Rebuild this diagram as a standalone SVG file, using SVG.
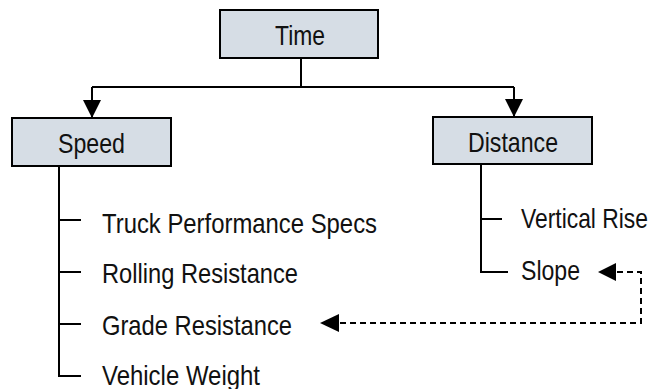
<svg xmlns="http://www.w3.org/2000/svg" width="658" height="389" viewBox="0 0 658 389">
<style>
.box{fill:#d6dde5;stroke:#000;stroke-width:2}
.t{font-family:"Liberation Sans Narrow","Liberation Sans",Arial,sans-serif;font-size:28.5px;fill:#111}
.c{text-anchor:middle}
.ln{fill:none;stroke:#000;stroke-width:2}
.dash{fill:none;stroke:#000;stroke-width:2;stroke-dasharray:6 4}
</style>
<defs>
<marker id="ah" markerUnits="userSpaceOnUse" markerWidth="20" markerHeight="20" viewBox="0 0 20 20" refX="18" refY="10" orient="auto">
<path d="M0,1 L18,10 L0,19 Z" fill="#000"/>
</marker>
</defs>
<g id="connectors">
<path class="ln" d="M301,58 V87 M92,87 H514" />
<path class="ln" d="M92,87 V118" marker-end="url(#ah)"/>
<path class="ln" d="M514,87 V117" marker-end="url(#ah)"/>
<path class="ln" d="M59,166 V376 H81 M59,220 H81 M59,272 H81 M59,324 H81"/>
<path class="ln" d="M481,164 V272 H508 M481,219 H502"/>
<path class="dash" d="M617,272 H641 V323 H338"/>
<path d="M598,272 L616,263 L616,281 Z" fill="#000"/>
<path d="M320,323 L339,314 L339,332 Z" fill="#000"/>
</g>
<g id="time">
<rect class="box" x="220" y="10" width="158" height="48"/>
<text class="t c" x="300" y="45" textLength="50" lengthAdjust="spacingAndGlyphs">Time</text>
</g>
<g id="speed">
<rect class="box" x="12" y="118" width="159" height="48"/>
<text class="t c" x="91.5" y="153" textLength="67" lengthAdjust="spacingAndGlyphs">Speed</text>
</g>
<g id="distance">
<rect class="box" x="433" y="117" width="159" height="47"/>
<text class="t c" x="513" y="152" textLength="90" lengthAdjust="spacingAndGlyphs">Distance</text>
</g>
<g id="truck"><text class="t" x="102" y="233" textLength="275" lengthAdjust="spacingAndGlyphs">Truck Performance Specs</text></g>
<g id="rolling"><text class="t" x="102" y="283" textLength="196" lengthAdjust="spacingAndGlyphs">Rolling Resistance</text></g>
<g id="grade"><text class="t" x="102" y="335" textLength="190" lengthAdjust="spacingAndGlyphs">Grade Resistance</text></g>
<g id="weight"><text class="t" x="102" y="385" textLength="158" lengthAdjust="spacingAndGlyphs">Vehicle Weight</text></g>
<g id="rise"><text class="t" x="521" y="228" textLength="127" lengthAdjust="spacingAndGlyphs">Vertical Rise</text></g>
<g id="slope"><text class="t" x="521" y="280" textLength="59" lengthAdjust="spacingAndGlyphs">Slope</text></g>
</svg>
